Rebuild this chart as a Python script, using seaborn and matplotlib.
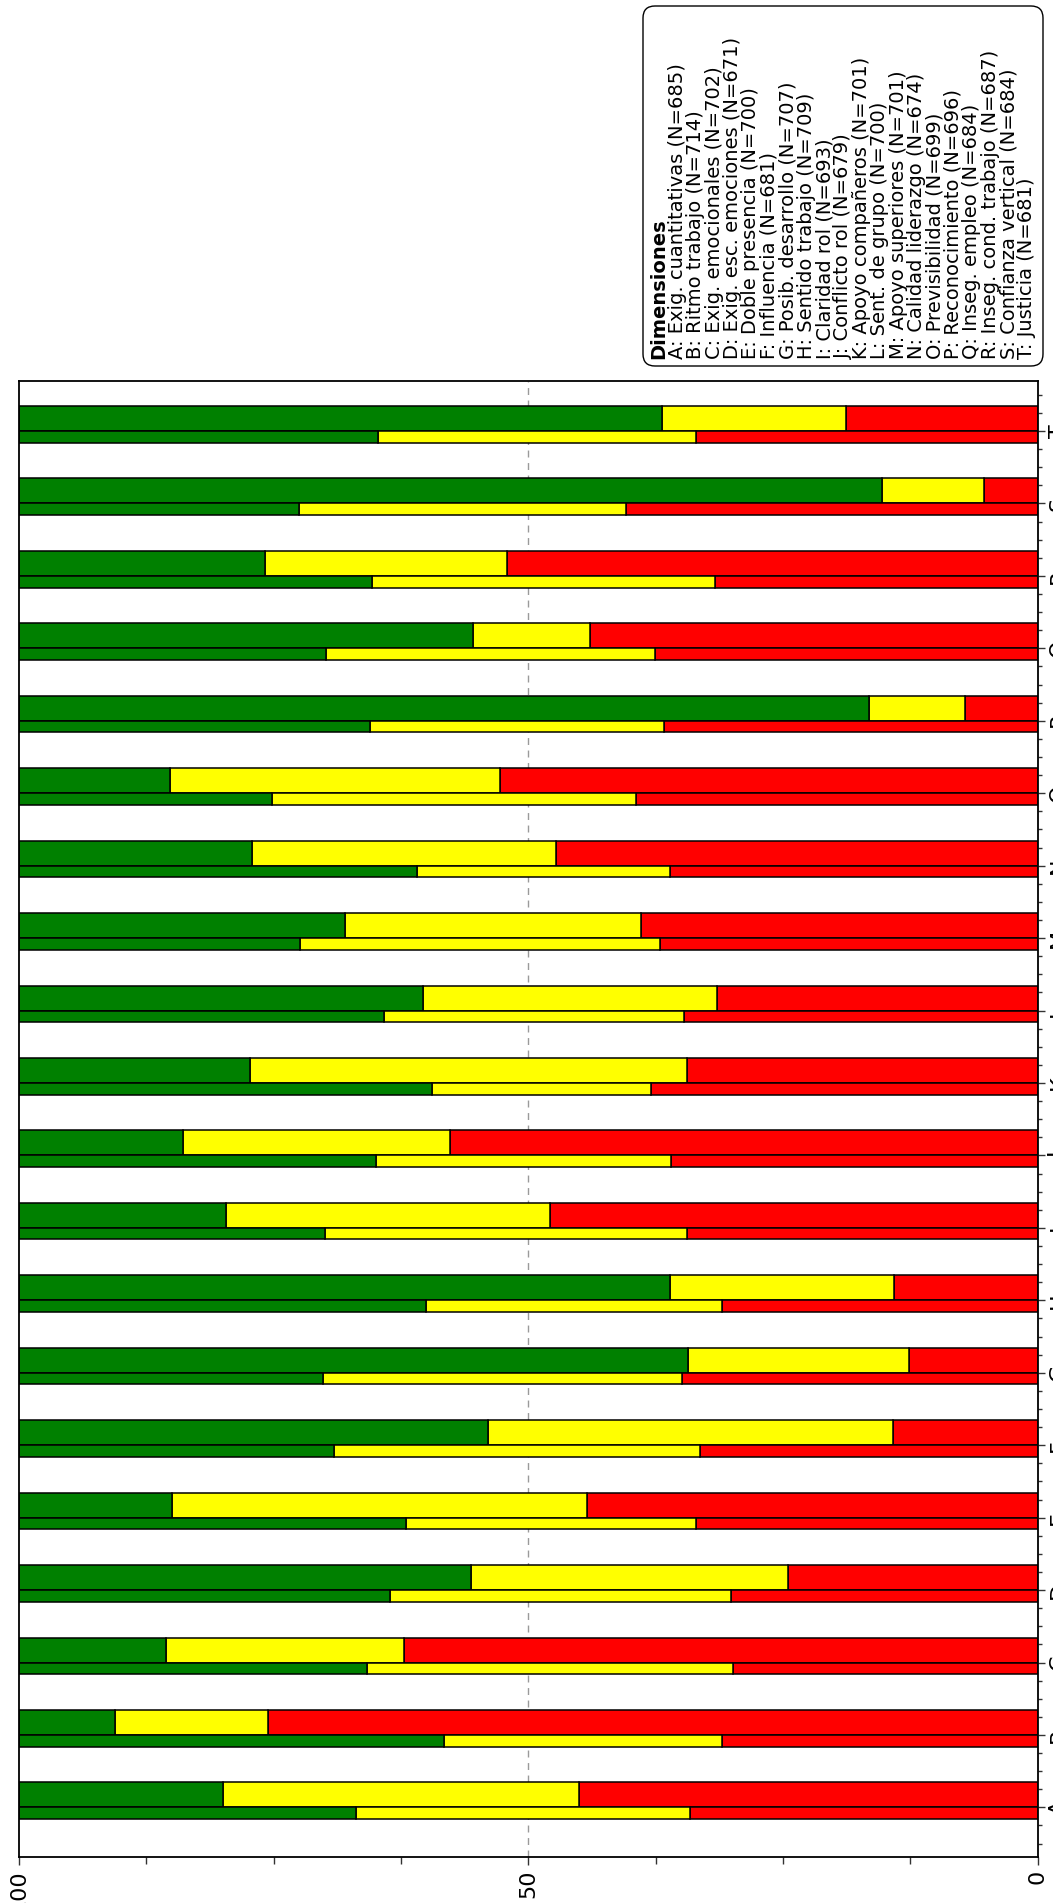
import numpy as np
import matplotlib
matplotlib.use("Agg")
import matplotlib.pyplot as plt
import seaborn as sns
from matplotlib.patches import FancyBboxPatch
from matplotlib.ticker import MultipleLocator, FixedLocator

# ---------------- data ----------------
categories = list("ABCDEFGHIJKLMNOPQRST")

legend_title = "Dimensiones"
legend_labels = [
    "A: Exig. cuantitativas (N=685)",
    "B: Ritmo trabajo (N=714)",
    "C: Exig. emocionales (N=702)",
    "D: Exig. esc. emociones (N=671)",
    "E: Doble presencia (N=700)",
    "F: Influencia (N=681)",
    "G: Posib. desarrollo (N=707)",
    "H: Sentido trabajo (N=709)",
    "I: Claridad rol (N=693)",
    "J: Conflicto rol (N=679)",
    "K: Apoyo compañeros (N=701)",
    "L: Sent. de grupo (N=700)",
    "M: Apoyo superiores (N=701)",
    "N: Calidad liderazgo (N=674)",
    "O: Previsibilidad (N=699)",
    "P: Reconocimiento (N=696)",
    "Q: Inseg. empleo (N=684)",
    "R: Inseg. cond. trabajo (N=687)",
    "S: Confianza vertical (N=684)",
    "T: Justicia (N=681)",
]

# wide bars (sample) - percentages
sample_red = [45.0, 75.5, 62.2, 24.5, 44.2, 14.2, 12.6, 14.1, 47.9, 57.7,
              34.4, 31.5, 38.9, 47.3, 52.8, 7.1, 43.9, 52.1, 5.3, 18.8]
sample_yellow = [35.0, 15.1, 23.4, 31.1, 40.8, 39.7, 21.7, 22.0, 31.8, 26.2,
                 42.9, 28.8, 29.1, 29.8, 32.4, 9.4, 11.5, 23.7, 10.0, 18.1]
sample_green = [20.0, 9.4, 14.4, 44.4, 15.0, 46.1, 65.7, 63.9, 20.3, 16.1,
                22.7, 39.7, 32.0, 22.9, 14.8, 83.5, 44.6, 24.2, 84.7, 63.1]

# narrow bars (reference population) - percentages
ref_red = [34.1, 31.0, 29.9, 30.1, 33.5, 33.1, 34.9, 31.0, 34.4, 36.0,
           37.9, 34.7, 37.1, 36.1, 39.4, 36.7, 37.6, 31.7, 40.4, 33.5]
ref_yellow = [32.8, 27.3, 35.9, 33.5, 28.5, 36.0, 35.2, 29.0, 35.5, 28.9,
              21.5, 29.5, 35.3, 24.8, 35.7, 28.8, 32.2, 33.6, 32.1, 31.2]
ref_green = [33.1, 41.7, 34.2, 36.4, 38.0, 30.9, 29.9, 40.0, 30.1, 35.1,
             40.6, 35.8, 27.6, 39.1, 24.9, 34.5, 30.3, 34.7, 27.5, 35.3]

value_ticks = [0, 50, 100]
value_ticklabels = ["0", "50", "100"]

# ---------------- style ----------------
sns.set_theme(style="white")
plt.rcParams['font.family'] = ['DejaVu Sans']

W, H = 1053, 1903
fig = plt.figure(figsize=(W / 100, H / 100), dpi=100)
fig.patch.set_facecolor("white")

left_px, right_px, top_px, bottom_px = 18.8, 1037.6, 380.7, 1857.0
ax = fig.add_axes([left_px / W, 1 - bottom_px / H,
                   (right_px - left_px) / W, (bottom_px - top_px) / H])
ax.set_facecolor("white")

RED, YEL, GRN = "#ff0000", "#ffff00", "#008000"
pos = np.arange(len(categories))
thick_h, thin_h = 0.345, 0.16

ax.axvline(50, color="#9a9a9a", lw=1.0, ls=(0, (5, 4)), zorder=0)

for r, y, g, yc, h in [
    (sample_red, sample_yellow, sample_green, pos + thick_h / 2, thick_h),
    (ref_red, ref_yellow, ref_green, pos - thin_h / 2, thin_h),
]:
    r = np.asarray(r); y = np.asarray(y); g = np.asarray(g)
    kw = dict(height=h, edgecolor="black", linewidth=1.1, zorder=2)
    ax.barh(yc, r, left=0, color=RED, **kw)
    ax.barh(yc, y, left=r, color=YEL, **kw)
    ax.barh(yc, g, left=r + y, color=GRN, **kw)

ax.set_xlim(100, 0)
ax.set_ylim(-0.685, 19.695)

ax.xaxis.set_major_locator(FixedLocator(value_ticks))
ax.xaxis.set_minor_locator(MultipleLocator(12.5))
ax.set_xticklabels(value_ticklabels, rotation=90, fontsize=16)

ax.yaxis.tick_right()
ax.set_yticks(pos)
ax.set_yticklabels(categories, rotation=90, va="center", fontsize=16)
ax.yaxis.set_minor_locator(MultipleLocator(0.25))

ax.tick_params(axis="both", which="both", direction="out", colors="#333333",
               labelcolor="black")
ax.tick_params(axis="x", which="major", length=6, width=1, pad=3, bottom=True, top=False)
ax.tick_params(axis="x", which="minor", length=5, width=1, bottom=True, top=False)
ax.tick_params(axis="y", which="major", length=5, width=1, right=True, left=False, pad=3)
ax.tick_params(axis="y", which="minor", length=3, width=1, right=True, left=False)

for s in ax.spines.values():
    s.set_visible(True)
    s.set_color("black")
    s.set_linewidth(1.3)

# ---------------- legend (rotated, drawn manually) ----------------
box = FancyBboxPatch((643 / 100, (H - 366) / 100), 400 / 100, 360 / 100,
                     boxstyle="round,pad=0,rounding_size=0.12",
                     transform=fig.dpi_scale_trans, facecolor="white",
                     edgecolor="black", linewidth=1.0)
fig.add_artist(box)

x0, step, ystart = 659.0, 18.4, 359.0
lines = [legend_title] + legend_labels
for i, txt in enumerate(lines):
    fig.text((x0 + i * step) / 100, (H - ystart) / 100, txt,
             transform=fig.dpi_scale_trans, rotation=90,
             rotation_mode="anchor", ha="left", va="center",
             fontsize=14, fontweight="bold" if i == 0 else "normal",
             color="black")

fig.savefig("out.png", dpi=100)
